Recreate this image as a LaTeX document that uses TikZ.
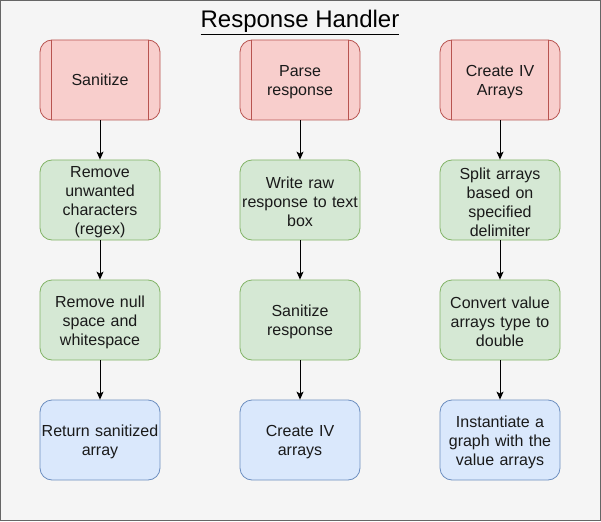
\documentclass[tikz,border=0pt]{standalone}
\usepackage{fontspec}
\setmainfont{Liberation Sans}
\usetikzlibrary{arrows.meta}
\definecolor{bgc}{HTML}{F5F5F5}
\definecolor{bdc}{HTML}{666666}
\definecolor{redf}{HTML}{F8CECC}
\definecolor{redd}{HTML}{B85450}
\definecolor{grnf}{HTML}{D5E8D4}
\definecolor{grnd}{HTML}{82B366}
\definecolor{bluf}{HTML}{DAE8FC}
\definecolor{blud}{HTML}{6C8EBF}
\definecolor{txt}{HTML}{1A1A1A}
\tikzset{
  x=1pt, y=1pt,
  box/.style={rounded corners=12pt, minimum width=120pt, minimum height=80pt, inner sep=1pt,
    text width=118pt, align=center, font=\fontsize{16}{19}\selectfont, text=txt, line width=0.8pt,
    execute at end node={\par\vspace{-4pt}}},
  proc/.style={box, fill=redf, draw=redd},
  stepg/.style={box, fill=grnf, draw=grnd},
  stepb/.style={box, fill=bluf, draw=blud},
  arr/.style={-{Stealth[length=8pt,width=7pt,inset=2pt]}, line width=0.9pt, black},
}
\newcommand{\procbars}[1]{%
  \draw[redd, line width=0.8pt] ([xshift=12pt]#1.north west) -- ([xshift=12pt]#1.south west);
  \draw[redd, line width=0.8pt] ([xshift=-12pt]#1.north east) -- ([xshift=-12pt]#1.south east);}
\begin{document}
\begin{tikzpicture}
\draw[fill=bgc, draw=bdc, line width=1pt] (0.5,-0.5) rectangle (600.5,-520.5);
\useasboundingbox (0,0) rectangle (601,-521);
\node[font=\fontsize{24}{28}\selectfont, text=black, anchor=base, inner sep=0pt] (title) at (300,-28) {\underline{Response Handler}};
% column 1
\node[proc] (a1) at (100,-80) {Sanitize};
\node[stepg] (a2) at (100,-200) {Remove\\unwanted\\characters\\(regex)};
\node[stepg] (a3) at (100,-320) {Remove null\\space and\\whitespace};
\node[stepb] (a4) at (100,-440) {Return sanitized\\array};
% column 2
\node[proc] (b1) at (300,-80) {Parse\\response};
\node[stepg] (b2) at (300,-200) {Write raw\\response to text\\box};
\node[stepg] (b3) at (300,-320) {Sanitize\\response};
\node[stepb] (b4) at (300,-440) {Create IV\\arrays};
% column 3
\node[proc] (c1) at (500,-80) {Create IV\\Arrays};
\node[stepg] (c2) at (500,-200) {Split arrays\\based on\\specified\\delimiter};
\node[stepg] (c3) at (500,-320) {Convert value\\arrays type to\\double};
\node[stepb] (c4) at (500,-440) {Instantiate a\\graph with the\\value arrays};
\procbars{a1}\procbars{b1}\procbars{c1}
\foreach \c in {a,b,c}{
  \draw[arr] (\c1.south) -- (\c2.north);
  \draw[arr] (\c2.south) -- (\c3.north);
  \draw[arr] (\c3.south) -- (\c4.north);
}
\end{tikzpicture}
\end{document}
